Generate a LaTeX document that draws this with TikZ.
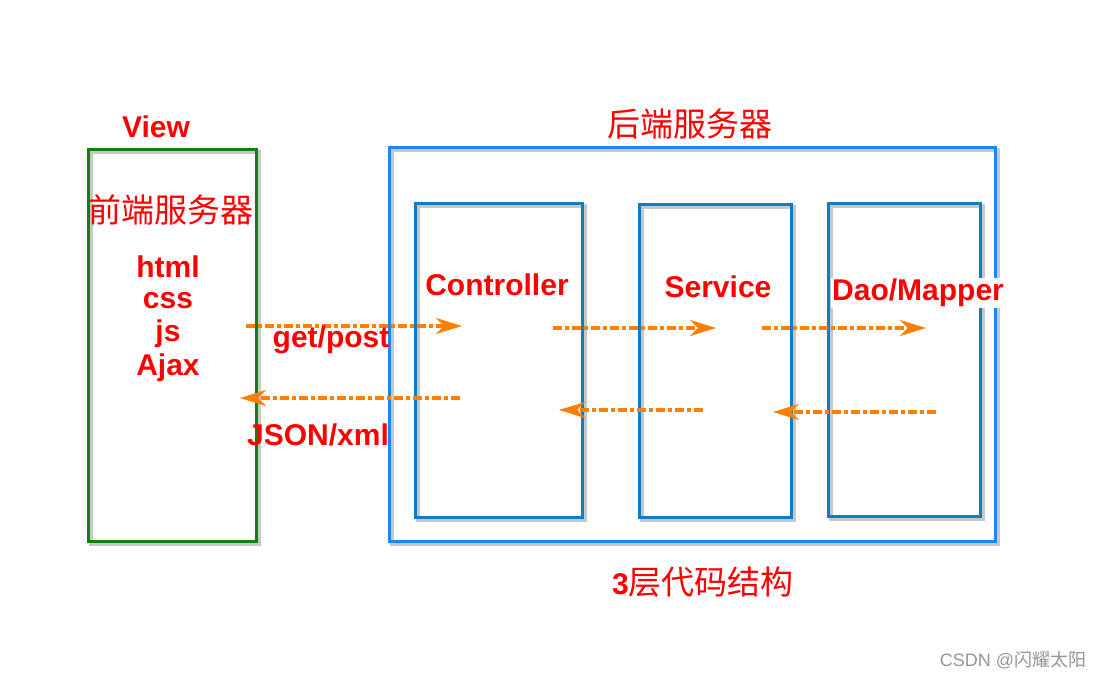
\documentclass[tikz,border=0pt]{standalone}
\usepackage{fontspec}
\setmainfont{Liberation Sans}
\newfontfamily\cjk{Noto Sans CJK SC}
\usetikzlibrary{arrows.meta}
\definecolor{vgreen}{RGB}{20,125,20}
\definecolor{outerblue}{RGB}{25,135,250}
\definecolor{innerblue}{RGB}{15,125,195}
\definecolor{flow}{RGB}{255,128,0}
\definecolor{lab}{RGB}{255,0,0}
\definecolor{mark}{RGB}{150,150,150}
\tikzset{
  box/.style={draw, line width=3pt, outer sep=0pt, inner sep=0pt, rectangle},
  shadowline/.style={draw=black, opacity=0.22, line width=4pt},
  flowarrow/.style={draw=flow, line width=3.2pt, dash pattern=on 9pt off 3pt on 4pt off 3pt,
    -{Stealth[length=26pt,width=16pt,inset=8pt]}},
  arrowshadow/.style={draw=black, opacity=0.15, line width=3.2pt, dash pattern=on 9pt off 3pt on 4pt off 3pt},
  lbl/.style={text=lab, font=\fontsize{30}{32}\selectfont\bfseries, inner sep=0pt},
  cjklbl/.style={text=lab, font=\cjk\fontsize{33}{35}\selectfont, inner sep=0pt},
}
\begin{document}
\begin{tikzpicture}[x=1pt,y=-1pt]
\useasboundingbox[fill=white] (0,0) rectangle (1103,679);
% boxes
\node[box, draw=vgreen, minimum width=168, minimum height=391] (view) at (172,345.5) {};
\node[box, draw=outerblue, minimum width=606, minimum height=393] (back) at (692,344.5) {};
\node[box, draw=innerblue, minimum width=167, minimum height=313] (ctrl) at (498.5,360.5) {};
\node[box, draw=innerblue, minimum width=152, minimum height=312] (serv) at (715,361) {};
\node[box, draw=innerblue, minimum width=152, minimum height=312] (dao) at (904,360) {};
% shadows
\foreach \b in {view,back,ctrl,serv,dao}{
  \draw[shadowline] ([shift={(2.5,2.5)}]\b.south west) rectangle ([shift={(2.5,2.5)}]\b.north east);
}
% redraw boxes on top of shadows
\draw[line width=3pt, vgreen] (view.south west) rectangle (view.north east);
\draw[line width=3pt, outerblue] (back.south west) rectangle (back.north east);
\foreach \b in {ctrl,serv,dao}{
  \draw[line width=3pt, innerblue] (\b.south west) rectangle (\b.north east);
}
% arrow ends
\coordinate (a1s) at (246,326); \coordinate (a1e) at (462,326);
\coordinate (a2s) at (460,398); \coordinate (a2e) at (240,398);
\coordinate (a3s) at (553,328); \coordinate (a3e) at (716,328);
\coordinate (a4s) at (762,328); \coordinate (a4e) at (926,328);
\coordinate (a5s) at (703,410); \coordinate (a5e) at (559,410);
\coordinate (a6s) at (936,412); \coordinate (a6e) at (773,412);
\foreach \s/\e in {a1s/a1e,a2s/a2e,a3s/a3e,a4s/a4e,a5s/a5e,a6s/a6e}{
  \draw[arrowshadow, shift={(2,2.5)}, shorten >=20pt] (\s) -- (\e);
  \draw[flowarrow] (\s) -- (\e);
}
% labels
\node[lbl] (tview) at (156,127) {View};
\node[cjklbl] (tfront) at (171,210) {前端服务器};
\node[lbl] (thtml) at (168,267) {html};
\node[lbl] (tcss) at (168,301) {css};
\node[lbl] (tjs) at (168,334) {js};
\node[lbl] (tajax) at (168,368) {Ajax};
\node[lbl] (tget) at (331,340) {get/post};
\node[lbl] (tjson) at (318,435) {JSON/xml};
\node[lbl] (tctrl) at (497,285) {Controller};
\node[lbl] (tserv) at (718,287) {Service};
\node[lbl, fill=white, inner sep=1.5pt] (tdao) at (918,293) {Dao/Mapper};
\node[cjklbl] (tback) at (690,124) {后端服务器};
\node[text=lab, inner sep=0pt] (tlayer) at (703,582)
  {{\fontsize{30}{32}\selectfont\bfseries 3}{\cjk\fontsize{33}{35}\selectfont 层代码结构}};
\node[text=mark, inner sep=0pt, font=\fontsize{18}{20}\selectfont] (tmark) at (1013,660)
  {CSDN @{\cjk 闪耀太阳}};
\end{tikzpicture}
\end{document}
